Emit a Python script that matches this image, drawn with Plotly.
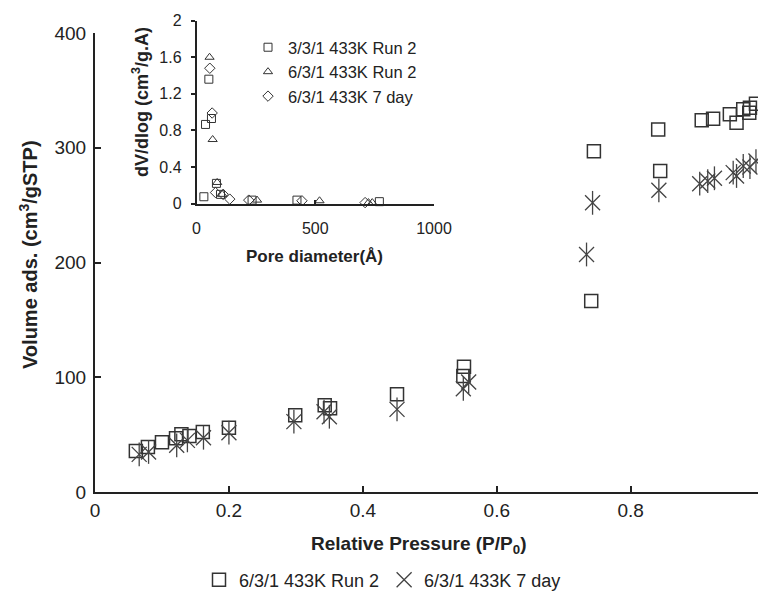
import plotly.graph_objects as go

# ---- main isotherm data ----
run2_p = [0.061, 0.079, 0.100, 0.121, 0.129, 0.141, 0.161, 0.200, 0.299, 0.343, 0.351, 0.451,
          0.550, 0.551, 0.741, 0.745, 0.841, 0.844, 0.906, 0.923, 0.948, 0.958, 0.968, 0.977, 0.978, 0.987]
run2_v = [35.7, 39.2, 43.3, 46.8, 50.3, 48.8, 52.3, 56.0, 66.8, 75.5, 72.9, 85.1,
          101.0, 109.2, 166.4, 297.0, 316.0, 279.7, 323.9, 325.3, 329.1, 321.8, 333.5, 330.6, 334.9, 338.4]

day7_p = [0.066, 0.080, 0.122, 0.138, 0.162, 0.200, 0.297, 0.342, 0.350, 0.451, 0.550, 0.558,
          0.734, 0.743, 0.842, 0.903, 0.915, 0.925, 0.953, 0.958, 0.968, 0.978, 0.987]
day7_v = [32.8, 34.9, 40.7, 45.0, 47.3, 51.7, 61.3, 70.0, 65.6, 72.0, 90.0, 95.9,
          207.0, 252.0, 262.9, 268.7, 271.0, 273.4, 278.3, 275.4, 284.1, 283.2, 288.4]

# ---- inset pore-size distribution data ----
a_d = [31, 38, 52, 63, 84, 101, 234, 423, 770]
a_v = [0.074, 0.865, 1.36, 0.93, 0.22, 0.10, 0.037, 0.037, 0.02]
b_d = [55, 68, 87, 108, 255, 518, 724, 740]
b_v = [1.60, 0.70, 0.23, 0.10, 0.037, 0.03, 0.01, 0.01]
c_d = [56, 66, 80, 112, 140, 220, 444, 710]
c_v = [1.48, 0.99, 0.12, 0.10, 0.048, 0.037, 0.03, 0.01]

main_xticks = [0, 0.2, 0.4, 0.6, 0.8, 1]
main_xtext = ["0", "0.2", "0.4", "0.6", "0.8", "1"]
main_yticks = [0, 100, 200, 300, 400]
inset_xticks = [0, 500, 1000]
inset_yticks = [0, 0.4, 0.8, 1.2, 1.6, 2]
inset_ytext = ["0", "0.4", "0.8", "1.2", "1.6", "2"]

W, H = 766, 593
OFF = 8  # page body margin offset
FONT = "Liberation Sans, Arial, sans-serif"
INK = "#222222"
MK = "#333333"

fig = go.Figure()

fig.add_trace(go.Scatter(x=run2_p, y=run2_v, mode="markers", name="6/3/1 433K Run 2",
                         marker=dict(symbol="square-open", size=13, color=MK, line=dict(width=1.5, color=MK)),
                         legend="legend", cliponaxis=False))
fig.add_trace(go.Scatter(x=day7_p, y=day7_v, mode="markers", name="6/3/1 433K 7 day",
                         marker=dict(symbol="x-thin-open", size=15, color="#444", line=dict(width=1.3, color="#444")),
                         legend="legend", cliponaxis=False))
fig.add_trace(go.Scatter(x=day7_p, y=day7_v, mode="markers", name="6/3/1 433K 7 day", showlegend=False,
                         marker=dict(symbol="line-ns-open", size=17, color="#444", line=dict(width=1.3, color="#444")),
                         cliponaxis=False))

fig.add_trace(go.Scatter(x=a_d, y=a_v, mode="markers", name="3/3/1 433K Run 2", xaxis="x2", yaxis="y2",
                         marker=dict(symbol="square-open", size=8, color=MK, line=dict(width=1, color=MK)),
                         legend="legend2", cliponaxis=False))
fig.add_trace(go.Scatter(x=b_d, y=b_v, mode="markers", name="6/3/1 433K Run 2", xaxis="x2", yaxis="y2",
                         marker=dict(symbol="triangle-up-open", size=8, color=MK, line=dict(width=1, color=MK)),
                         legend="legend2", cliponaxis=False))
fig.add_trace(go.Scatter(x=c_d, y=c_v, mode="markers", name="6/3/1 433K 7 day", xaxis="x2", yaxis="y2",
                         marker=dict(symbol="diamond-open", size=8, color=MK, line=dict(width=1, color=MK)),
                         legend="legend2", cliponaxis=False))

def px_x(p):
    return (p - OFF) / W

def px_y(p):
    return 1 - (p - OFF) / H

fig.update_layout(
    width=W, height=H,
    margin=dict(l=0, r=0, t=0, b=0),
    paper_bgcolor="white", plot_bgcolor="rgba(0,0,0,0)",
    font=dict(family=FONT, color=INK),
    xaxis=dict(domain=[px_x(95), px_x(765)], range=[0, 1.0005], tickvals=main_xticks, ticktext=main_xtext,
               showgrid=False, zeroline=False, showline=True, linecolor=INK, linewidth=2,
               ticks="inside", ticklen=6, tickwidth=2, tickcolor=INK, automargin=False,
               tickfont=dict(size=19, color=INK), anchor="y"),
    yaxis=dict(domain=[px_y(492), px_y(33)], range=[0, 400], tickvals=main_yticks,
               showgrid=False, zeroline=False, showline=True, linecolor=INK, linewidth=2,
               ticks="inside", ticklen=6, tickwidth=2, tickcolor=INK, automargin=False,
               tickfont=dict(size=19, color=INK), anchor="x", ticklabelstandoff=3),
    xaxis2=dict(domain=[px_x(196.5), px_x(434)], range=[0, 1000], tickvals=inset_xticks,
                showgrid=False, zeroline=False, showline=True, linecolor=INK, linewidth=1.5,
                ticks="inside", ticklen=4, tickwidth=1.5, tickcolor=INK, automargin=False,
                tickfont=dict(size=16, color=INK), anchor="y2", ticklabelstandoff=10),
    yaxis2=dict(domain=[px_y(203.5), px_y(20.7)], range=[0, 2], tickvals=inset_yticks, ticktext=inset_ytext,
                showgrid=False, zeroline=False, showline=True, linecolor=INK, linewidth=1.5,
                ticks="outside", ticklen=4, tickwidth=1.5, tickcolor=INK, automargin=False,
                tickfont=dict(size=16, color=INK), anchor="x2", ticklabelstandoff=6),
    legend=dict(orientation="h", x=px_x(199), y=px_y(580), xanchor="left", yanchor="middle",
                font=dict(size=18, color=INK), bgcolor="rgba(0,0,0,0)", itemwidth=30),
    legend2=dict(orientation="v", x=px_x(248), y=px_y(30), xanchor="left", yanchor="top",
                 font=dict(size=16.5, color=INK), bgcolor="rgba(0,0,0,0)", itemwidth=30,
                 tracegroupgap=0),
    annotations=[
        dict(text="<b>Volume ads. (cm<sup>3</sup>/gSTP)</b>", x=px_x(28), y=px_y(255), xref="paper", yref="paper",
             textangle=-90, showarrow=False, font=dict(size=20, color=INK), xanchor="center", yanchor="middle"),
        dict(text="<b>Relative Pressure (P/P<sub>0</sub>)</b>", x=px_x(418), y=px_y(545), xref="paper", yref="paper",
             showarrow=False, font=dict(size=19, color=INK), xanchor="center", yanchor="middle"),
        dict(text="<b>dV/dlog (cm<sup>3</sup>/g.A)</b>", x=px_x(140), y=px_y(102), xref="paper", yref="paper",
             textangle=-90, showarrow=False, font=dict(size=18, color=INK), xanchor="center", yanchor="middle"),
        dict(text="<b>Pore diameter(Å)</b>", x=px_x(314), y=px_y(256), xref="paper", yref="paper",
             showarrow=False, font=dict(size=17, color=INK), xanchor="center", yanchor="middle"),
    ],
)

fig.write_html("out.html")
